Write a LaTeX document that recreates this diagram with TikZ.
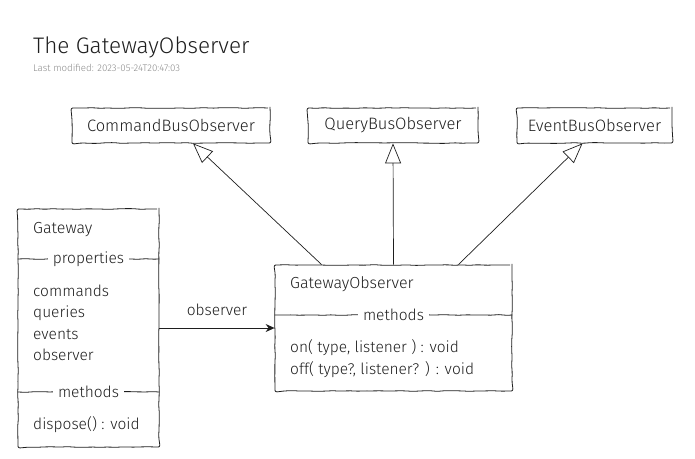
\documentclass[tikz,border=0pt]{standalone}
\usepackage{fontspec}
\setmainfont{Fira Sans Light}
\usetikzlibrary{arrows.meta, positioning, decorations.pathmorphing}
\definecolor{ink}{HTML}{1E1E1E}
\definecolor{faded}{HTML}{8A8A8A}
\tikzset{
  sketch/.style={decorate, decoration={random steps, segment length=8pt, amplitude=0.4pt}},
  classbox/.style={draw=ink, line width=0.8pt, rounded corners=2pt, sketch, inner sep=0pt},
  member/.style={anchor=base west, inner sep=0pt, text=ink, font=\fontsize{15.5}{18}\selectfont},
  divlabel/.style={fill=white, inner xsep=5pt, text=ink, font=\fontsize{15.5}{18}\selectfont},
  realizes/.style={draw=ink, line width=0.7pt, -{Triangle[open, length=20pt, width=16pt]}},
  assoc/.style={draw=ink, line width=0.7pt, -{Stealth[length=9pt, width=8pt, inset=3pt]}}
}

\begin{document}
\begin{tikzpicture}[x=1pt, y=-1pt]
\useasboundingbox (0,0) rectangle (695,458);

% title
\node[anchor=base west, text=ink, font=\fontsize{22.5}{26}\selectfont, inner sep=0pt] (title) at (33,53) {The GatewayObserver};
\node[anchor=base west, text=faded, font=\fontsize{9.7}{11}\selectfont, inner sep=0pt] (stamp) at (33,71) {Last modified: 2023-05-24T20:47:03};

% interfaces
\node[classbox, minimum width=198pt, minimum height=35pt, font=\fontsize{16.5}{19}\selectfont, text=ink] (cmd) at (171,125.5) {CommandBusObserver};
\node[classbox, minimum width=170pt, minimum height=35pt, font=\fontsize{16.5}{19}\selectfont, text=ink] (qry) at (393,125.5) {QueryBusObserver};
\node[classbox, minimum width=155pt, minimum height=35pt, font=\fontsize{16.5}{19}\selectfont, text=ink] (evt) at (594.5,125.5) {EventBusObserver};

% Gateway
\node[classbox, minimum width=141pt, minimum height=238pt] (gw) at (88.5,328) {};
\node[member, font=\fontsize{16}{19}\selectfont] (gwname) at (33,233) {Gateway};
\draw[ink, line width=0.8pt, sketch] (gw.west |- 0,259) -- (gw.east |- 0,259);
\node[divlabel] (gwprops) at (88.5,259) {properties};
\node[member] (gwcmd) at (33,296) {commands};
\node[member] (gwqry) at (33,317.5) {queries};
\node[member] (gwevt) at (33,339) {events};
\node[member] (gwobs) at (33,360.5) {observer};
\draw[ink, line width=0.8pt, sketch] (gw.west |- 0,392) -- (gw.east |- 0,392);
\node[divlabel] (gwmeth) at (88.5,392) {methods};
\node[member] (gwdisp) at (33,429) {dispose() : void};

% GatewayObserver
\node[classbox, minimum width=237pt, minimum height=126pt] (go) at (393.5,328) {};
\node[member, font=\fontsize{16}{19}\selectfont] (goname) at (290,288) {GatewayObserver};
\draw[ink, line width=0.8pt, sketch] (go.west |- 0,315) -- (go.east |- 0,315);
\node[divlabel] (gometh) at (393.5,315) {methods};
\node[member] (goon) at (290,352) {on( type, listener ) : void};
\node[member] (gooff) at (290,374) {off( type?, listener? ) : void};

% connectors
\draw[assoc] (gw.east) -- node[above=9pt, text=ink, font=\fontsize{15.5}{18}\selectfont] {observer} (go.west);
\draw[realizes] ([xshift=47pt]go.north west) -- ([xshift=22pt]cmd.south);
\draw[realizes] (go.north) -- (qry.south);
\draw[realizes] ([xshift=-54pt]go.north east) -- ([xshift=-12pt]evt.south);
\end{tikzpicture}
\end{document}
